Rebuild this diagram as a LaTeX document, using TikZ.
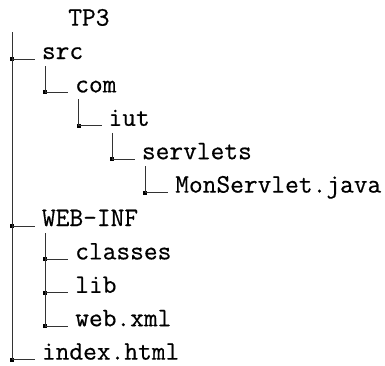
\documentclass[tikz,border=0pt]{standalone}
\usepackage{fontspec}
\setmonofont{Latin Modern Mono}[FakeBold=0.5]
\begin{document}
\begin{tikzpicture}[x=0.75pt,y=-0.75pt,
  lbl/.style={anchor=base west,inner sep=0pt,font=\fontsize{20}{24}\selectfont\ttfamily},
  sq/.style={rectangle,fill=black,inner sep=0pt,minimum size=3pt},
  ln/.style={line width=0.6pt,black!80},
  hl/.style={ln,shorten >=4.9pt}]
\useasboundingbox (0,0) rectangle (385,365);
% labels
\node[lbl] (tp3) at (68,25.6) {TP3};
\node[lbl] (src) at (41.7,59) {src};
\node[lbl] (com) at (75,92.4) {com};
\node[lbl] (iut) at (108.3,125.8) {iut};
\node[lbl] (servlets) at (141.7,159.2) {servlets};
\node[lbl] (mon) at (175,192.6) {MonServlet.java};
\node[lbl] (webinf) at (41.7,226) {WEB-INF};
\node[lbl] (classes) at (75,259.4) {classes};
\node[lbl] (lib) at (75,292.8) {lib};
\node[lbl] (webxml) at (75,326.2) {web.xml};
\node[lbl] (index) at (41.7,359.6) {index.html};
% tops of vertical lines
\coordinate (t1) at (12,32);
\coordinate (t2) at (45.3,66);
\coordinate (t3) at (78.7,99.4);
\coordinate (t4) at (112,132.8);
\coordinate (t5) at (145.3,166.2);
\coordinate (t6) at (45.3,233);
% squares
\node[sq] (qsrc) at (12,59) {};
\node[sq] (qcom) at (45.3,92.4) {};
\node[sq] (qiut) at (78.7,125.8) {};
\node[sq] (qserv) at (112,159.2) {};
\node[sq] (qmon) at (145.3,192.6) {};
\node[sq] (qweb) at (12,226) {};
\node[sq] (qcla) at (45.3,259.4) {};
\node[sq] (qlib) at (45.3,292.8) {};
\node[sq] (qxml) at (45.3,326.2) {};
\node[sq] (qind) at (12,359.6) {};
% vertical lines
\draw[ln] (t1) -- (qind.center);
\draw[ln] (t2) -- (qcom.center);
\draw[ln] (t3) -- (qiut.center);
\draw[ln] (t4) -- (qserv.center);
\draw[ln] (t5) -- (qmon.center);
\draw[ln] (t6) -- (qxml.center);
% horizontal lines
\draw[hl] (qsrc.center) -- (qsrc.center -| src.west);
\draw[hl] (qcom.center) -- (qcom.center -| com.west);
\draw[hl] (qiut.center) -- (qiut.center -| iut.west);
\draw[hl] (qserv.center) -- (qserv.center -| servlets.west);
\draw[hl] (qmon.center) -- (qmon.center -| mon.west);
\draw[hl] (qweb.center) -- (qweb.center -| webinf.west);
\draw[hl] (qcla.center) -- (qcla.center -| classes.west);
\draw[hl] (qlib.center) -- (qlib.center -| lib.west);
\draw[hl] (qxml.center) -- (qxml.center -| webxml.west);
\draw[hl] (qind.center) -- (qind.center -| index.west);
\end{tikzpicture}
\end{document}
